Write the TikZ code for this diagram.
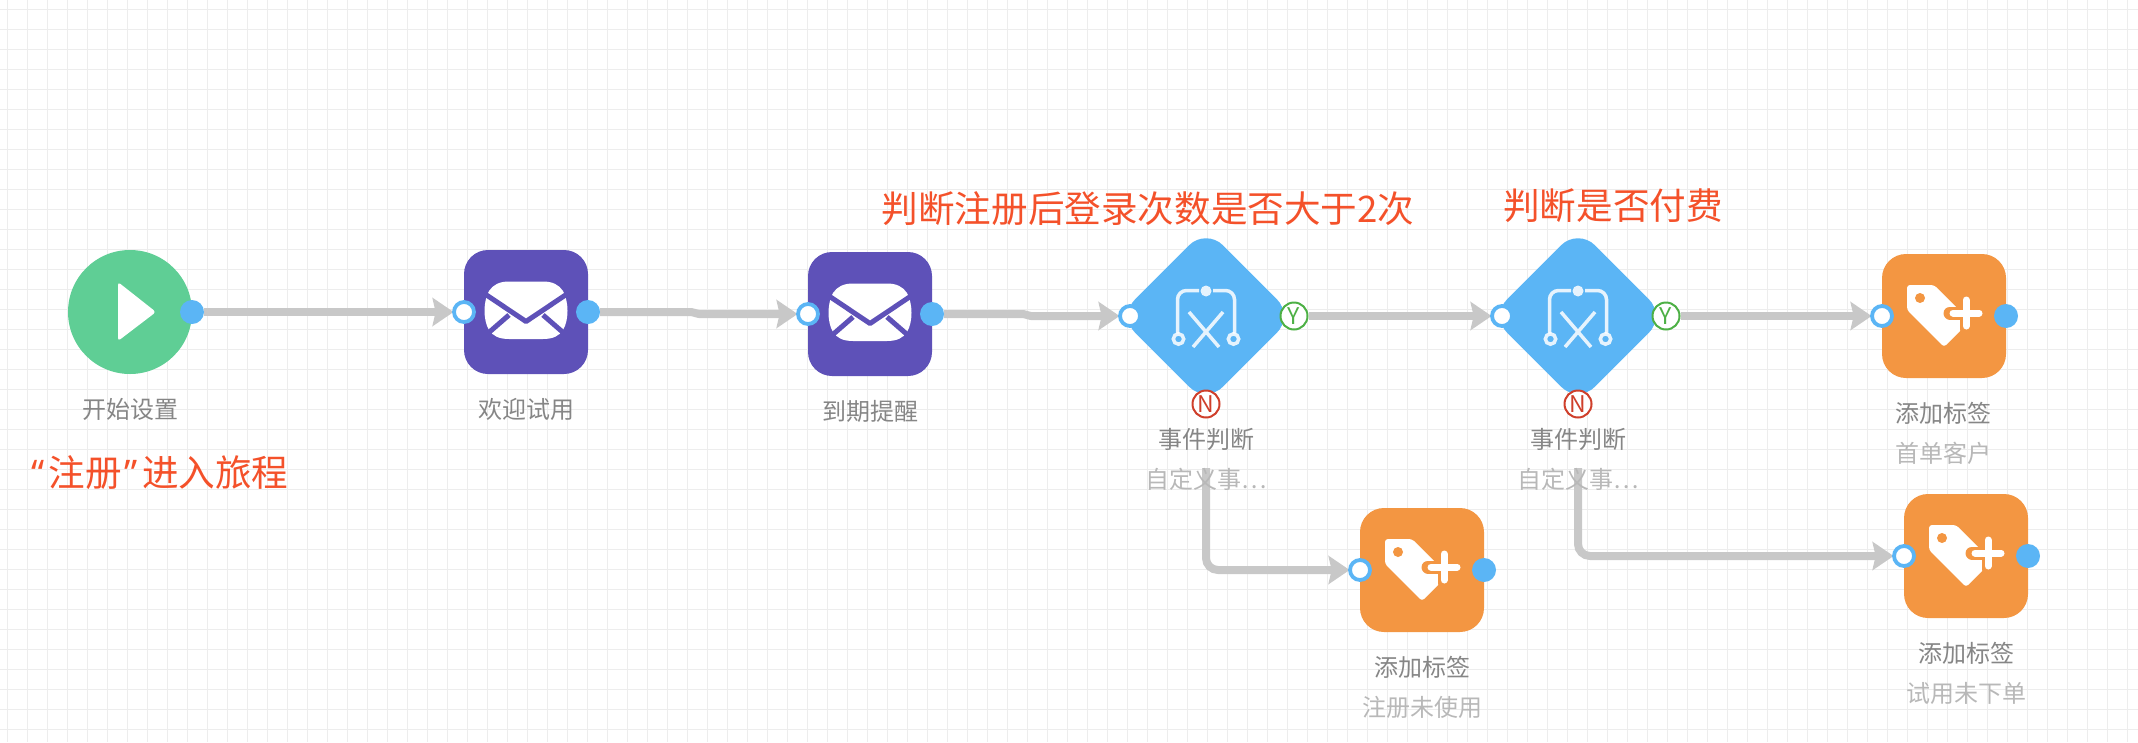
\documentclass[tikz,border=0pt]{standalone}
\usepackage{fontspec}
\setmainfont{Noto Sans CJK SC}
\newfontfamily\quotefont{Noto Sans}
\usetikzlibrary{arrows.meta,backgrounds}
\definecolor{gridgray}{HTML}{EDEDED}
\definecolor{linkgray}{HTML}{C8C8C8}
\definecolor{portblue}{HTML}{5BB5F5}
\definecolor{startgreen}{HTML}{5FCE95}
\definecolor{mailpurple}{HTML}{5E51B8}
\definecolor{tagorange}{HTML}{F39642}
\definecolor{notered}{HTML}{F4512A}
\definecolor{yesgreen}{HTML}{4DB045}
\definecolor{nored}{HTML}{CF3F2B}
\tikzset{
	tile/.style={rectangle,rounded corners=24pt,minimum size=124pt,inner sep=0pt,outer sep=0pt},
	outport/.style={circle,fill=portblue,minimum size=24pt,inner sep=0pt},
	inport/.style={circle,fill=white,draw=portblue,line width=3.8pt,minimum size=20pt,inner sep=0pt},
	yesport/.style={circle,fill=white,draw=yesgreen,line width=2pt,minimum size=27pt,inner sep=0pt,text=yesgreen,font=\fontsize{23}{23}\selectfont},
	noport/.style={circle,fill=white,draw=nored,line width=2pt,minimum size=27pt,inner sep=0pt,text=nored,font=\fontsize{23}{23}\selectfont},
	title/.style={text=gray!95,font=\fontsize{24}{24}\selectfont,inner sep=0pt},
	subtitle/.style={text=black!28,font=\fontsize{24}{24}\selectfont,inner sep=0pt},
	note/.style={text=notered,font=\fontsize{36.6}{37}\selectfont,inner sep=0pt},
	link/.style={draw=linkgray,line width=8pt,rounded corners=12pt,shorten >=-1.5pt,-{Stealth[length=21pt,width=28pt,inset=3pt]}},
	jogged/.style={rounded corners=2pt},
	mailicon/.pic={
		\fill[white] (-17,-30.5) -- (17,-30.5) .. controls (27,-30.5) and (33,-27) .. (37,-21) .. controls (43,-10) and (43,8) .. (37,18)
			.. controls (33,24) and (27,27) .. (17,27) -- (-17,27) .. controls (-27,27) and (-33,24) .. (-37,18) .. controls (-43,8) and (-43,-10) .. (-37,-21)
			.. controls (-33,-27) and (-27,-30.5) .. (-17,-30.5) -- cycle;
		\draw[mailpurple,line width=5pt,line join=round] (-44,-20) -- (0,9.5) -- (44,-20) (-40,23) -- (-17,3) (40,23) -- (17,3);
	},
	tagicon/.pic={
		\fill[white,rounded corners=3pt] (-37,-31) -- (-10,-31) -- (26,5) -- (0,31) -- (-37,-6) -- cycle;
		\fill[tagorange] (-24,-18) circle (5);
		\draw[tagorange,line width=13pt,line cap=round] (6,-3) -- (38,-3) (22,-19) -- (22,13);
		\draw[white,line width=7pt,line cap=round] (9,-3) -- (35,-3) (22,-16) -- (22,10);
	},
	splitarc/.style={white,opacity=.85,line width=3.5pt},
	spliticon/.pic={
		\fill[white,opacity=.85] (0,-25) circle (5.5);
		\draw[splitarc,rounded corners=9pt] (-7,-25.5) -- (-28.5,-25.5) -- (-28.5,17.5);
		\draw[splitarc,rounded corners=9pt] (7,-25.5) -- (28.5,-25.5) -- (28.5,17.5);
		\draw[splitarc] (-27.5,23) circle (5.2) (27.5,23) circle (5.2);
		\draw[splitarc] (-17,-4) -- (13,31) (17,-4) -- (-13,31);
	},
}
\begin{document}
\begin{tikzpicture}[x=1pt,y=-1pt]
	\useasboundingbox (0,0) rectangle (2138,742);

	\node[circle,fill=startgreen,minimum size=124pt,inner sep=0pt] (start) at (130,312) {};
	\fill[white,rounded corners=3pt] (118,282) -- (156,312) -- (118,341) -- cycle;
	\node[outport] (startout) at (192,312) {};
	\node[title] (starttitle) at (130,409) {开始设置};
	\node[note] (startnote) at (160,473) {{\quotefont “}\hspace{4pt}注册\hspace{3pt}{\quotefont ”}\hspace{4pt}进入旅程};

	\node[tile,fill=mailpurple] (welcome) at (526,312) {};
	\pic at (welcome) {mailicon};
	\node[inport] (welcomein) at (464,312) {};
	\node[outport] (welcomeout) at (588,312) {};
	\node[title] (welcometitle) at (526,409) {欢迎试用};

	\node[tile,fill=mailpurple] (expire) at (870,314) {};
	\pic at (expire) {mailicon};
	\node[inport] (expirein) at (808,314) {};
	\node[outport] (expireout) at (932,314) {};
	\node[title] (expiretitle) at (870,411) {到期提醒};

	\node[tile,rotate=45,fill=portblue] (loginjudge) at (1206,316) {};
	\pic at (loginjudge) {spliticon};
	\node[inport] (loginin) at (1130,316) {};
	\node[yesport] (loginyes) at (1294,316) {Y};
	\node[noport] (loginno) at (1206,404) {N};
	\node[title] (logintitle) at (1206,439) {事件判断};
	\node[subtitle] (loginsub) at (1206,479) {自定义事…};
	\node[note] (loginnote) at (1148,209) {判断注册后登录次数是否大于2次};

	\node[tile,rotate=45,fill=portblue] (payjudge) at (1578,316) {};
	\pic at (payjudge) {spliticon};
	\node[inport] (payin) at (1502,316) {};
	\node[yesport] (payyes) at (1666,316) {Y};
	\node[noport] (payno) at (1578,404) {N};
	\node[title] (paytitle) at (1578,439) {事件判断};
	\node[subtitle] (paysub) at (1578,479) {自定义事…};
	\node[note] (paynote) at (1613,206) {判断是否付费};

	\node[tile,fill=tagorange] (firstorder) at (1944,316) {};
	\pic at (firstorder) {tagicon};
	\node[inport] (firstin) at (1882,316) {};
	\node[outport] (firstout) at (2006,316) {};
	\node[title] (firsttitle) at (1943,413) {添加标签};
	\node[subtitle] (firstsub) at (1943,453) {首单客户};

	\node[tile,fill=tagorange] (unused) at (1422,570) {};
	\pic at (unused) {tagicon};
	\node[inport] (unusedin) at (1360,570) {};
	\node[outport] (unusedout) at (1484,570) {};
	\node[title] (unusedtitle) at (1422,667) {添加标签};
	\node[subtitle] (unusedsub) at (1422,707) {注册未使用};

	\node[tile,fill=tagorange] (unpaid) at (1966,556) {};
	\pic at (unpaid) {tagicon};
	\node[inport] (unpaidin) at (1904,556) {};
	\node[outport] (unpaidout) at (2028,556) {};
	\node[title] (unpaidtitle) at (1966,653) {添加标签};
	\node[subtitle] (unpaidsub) at (1966,693) {试用未下单};

	\coordinate (loginend) at (1206,468);
	\coordinate (payend) at (1578,468);
	\begin{scope}[on background layer]
		\foreach \gx in {7.5,27.5,...,2138} \draw[gridgray,line width=1.3pt] (\gx,0) -- (\gx,742);
		\foreach \gy in {9.5,29.5,...,742} \draw[gridgray,line width=1.3pt] (0,\gy) -- (2138,\gy);
		\draw[link] (startout) -- (welcomein);
		\draw[link,jogged] (welcomeout) -- ++(105,0) -- ++(4,2) -- (expirein);
		\draw[link,jogged] (expireout) -- ++(93,0) -- ++(4,2) -- (loginin);
		\draw[link] (loginyes) -- (payin);
		\draw[link] (payyes) -- (firstin);
		\draw[link] (loginend) |- (unusedin);
		\draw[link] (payend) |- (unpaidin);
	\end{scope}
\end{tikzpicture}
\end{document}
